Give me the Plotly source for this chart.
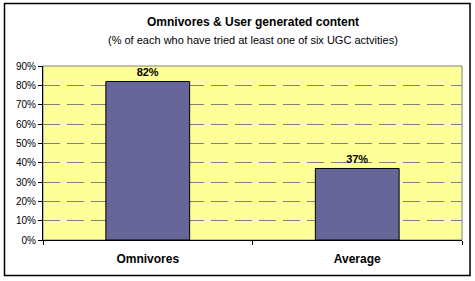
import plotly.graph_objects as go

categories = ["Omnivores", "Average"]
values = [0.82, 0.37]
labels = ["82%", "37%"]
tick_vals = [0, 0.1, 0.2, 0.3, 0.4, 0.5, 0.6, 0.7, 0.8, 0.9]
tick_text = ["0%", "10%", "20%", "30%", "40%", "50%", "60%", "70%", "80%", "90%"]

fig = go.Figure()
fig.add_trace(go.Bar(
    x=categories, y=values, text=labels, textposition="outside",
    textfont=dict(family="Arial, Liberation Sans", size=11, color="black"),
    texttemplate="<b>%{text}</b>",
    marker=dict(color="#666699", line=dict(color="black", width=1)),
    width=0.4, cliponaxis=False,
))

fig.update_layout(
    width=475, height=281,
    margin=dict(l=43, r=13, t=66, b=41),
    paper_bgcolor="white", plot_bgcolor="#FFFF99",
    showlegend=False,
    font=dict(family="Arial, Liberation Sans", color="black"),
    shapes=[
        dict(type="rect", xref="paper", yref="paper", x0=0, x1=1, y0=0, y1=1,
             line=dict(color="#808080", width=1), layer="below"),
    ],
    annotations=[
        dict(text="<b>Omnivores &amp; User generated content</b>", xref="paper", yref="paper",
             x=0.5, y=1, yshift=44, xanchor="center", yanchor="middle", showarrow=False,
             font=dict(size=12, family="Arial, Liberation Sans")),
        dict(text="(% of each who have tried at least one of six UGC actvities)", xref="paper", yref="paper",
             x=0.5, y=1, yshift=26, xanchor="center", yanchor="middle", showarrow=False,
             font=dict(size=11, family="Arial, Liberation Sans")),
    ],
)

fig.update_yaxes(
    range=[0, 0.9], tickvals=tick_vals, ticktext=tick_text,
    showgrid=True, gridcolor="#808080", griddash="17px,7px", gridwidth=1,
    showline=True, linecolor="black", linewidth=1,
    ticks="outside", ticklen=4, tickcolor="black",
    tickfont=dict(size=10), zeroline=False,
)
fig.update_xaxes(
    showline=True, linecolor="black", linewidth=1,
    ticks="outside", ticklen=4, tickcolor="black", tickson="boundaries",
    tickfont=dict(size=12), tickprefix="<b>", ticksuffix="</b>",
    ticklabelstandoff=8,
    showgrid=False,
)

# outer chart border
fig.add_shape(type="rect", xref="paper", yref="paper",
              x0=-38.5/419, x1=1 + 8/419, y0=-35.5/174, y1=1 + 62.5/174,
              line=dict(color="black", width=1.5), layer="above")

fig.write_html("out.html")
